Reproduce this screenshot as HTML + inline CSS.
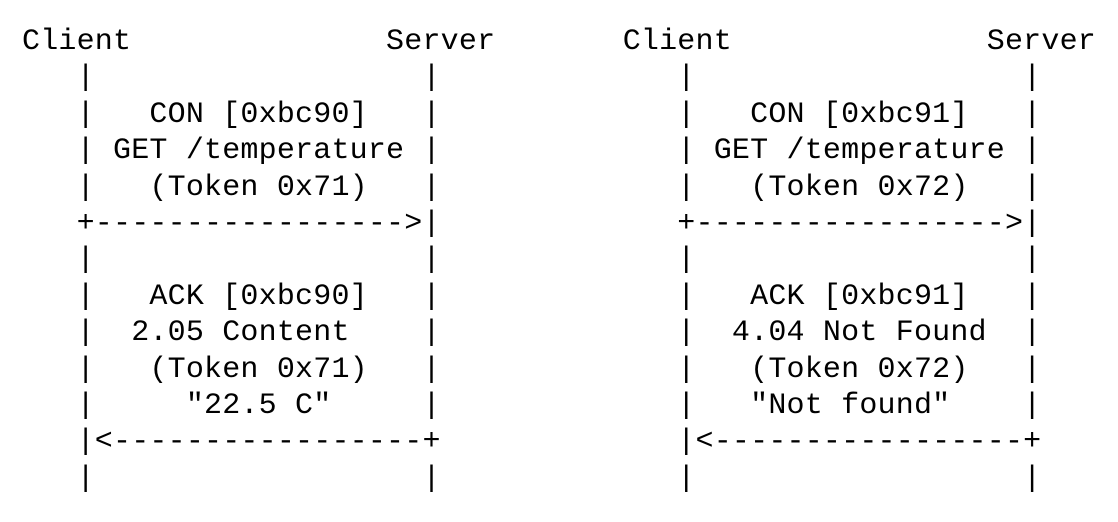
<!DOCTYPE html>
<html><head><meta charset="utf-8"><style>
html,body{margin:0;padding:0;background:#fff;width:1118px;height:522px;overflow:hidden}
pre{position:absolute;left:22px;top:24px;margin:0;font-family:"Liberation Mono",monospace;font-size:30px;letter-spacing:0.2px;line-height:36.4px;color:#000}
</style></head><body><pre>Client              Server       Client              Server
   |                  |             |                  |
   |   CON [0xbc90]   |             |   CON [0xbc91]   |
   | GET /temperature |             | GET /temperature |
   |   (Token 0x71)   |             |   (Token 0x72)   |
   +-----------------&gt;|             +-----------------&gt;|
   |                  |             |                  |
   |   ACK [0xbc90]   |             |   ACK [0xbc91]   |
   |  2.05 Content    |             |  4.04 Not Found  |
   |   (Token 0x71)   |             |   (Token 0x72)   |
   |     "22.5 C"     |             |   "Not found"    |
   |&lt;-----------------+             |&lt;-----------------+
   |                  |             |                  |</pre></body></html>
